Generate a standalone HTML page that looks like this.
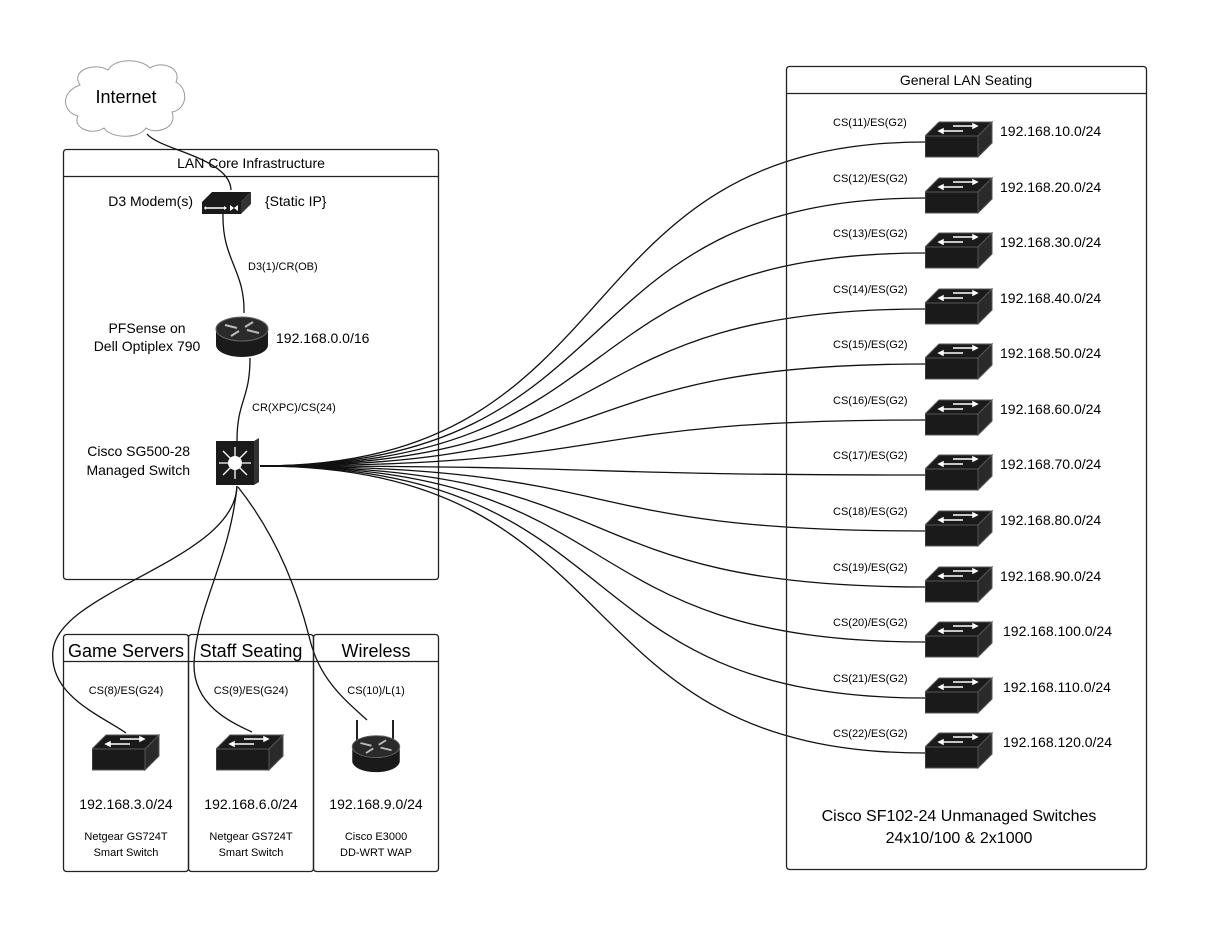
<!DOCTYPE html>
<html><head><meta charset="utf-8"><style>
html,body{margin:0;padding:0;background:#fff;}
svg{display:block;font-family:"Liberation Sans",sans-serif;}
</style></head><body>
<svg width="1205" height="932" viewBox="0 0 1205 932" xmlns="http://www.w3.org/2000/svg">
<defs>
<symbol id="sw" viewBox="0 0 68 37" width="68" height="37">
<polygon points="14,1 67,1 53,15 0,15" fill="#1a1a1a" stroke="#555" stroke-width="1"/>
<rect x="0" y="15" width="53" height="21" fill="#1a1a1a" stroke="#555" stroke-width="1"/>
<polygon points="53,15 67,1 67,22 53,36" fill="#2a2a2a" stroke="#555" stroke-width="1"/>
<g stroke="#fff" stroke-width="1.5" fill="#fff">
<line x1="28" y1="5" x2="48" y2="5"/><polygon points="48,3 52,5 48,7"/>
<line x1="18" y1="10" x2="38" y2="10"/><polygon points="18,8 14,10 18,12"/>
</g>
</symbol>
<symbol id="rt" viewBox="0 0 54 46" width="54" height="46">
<path d="M1,16 L1,32 A26,12 0 0 0 53,32 L53,16 Z" fill="#1a1a1a"/>
<ellipse cx="27" cy="16" rx="26" ry="12" fill="#2a2a2a" stroke="#666"/>
<g stroke="#bbb" stroke-width="2">
<line x1="10" y1="12" x2="22" y2="15"/><line x1="32" y1="17" x2="44" y2="20"/>
<line x1="16" y1="23" x2="24" y2="18"/><line x1="30" y1="14" x2="38" y2="9"/>
</g>
</symbol>
</defs>

<path d="M80,85 C70,70 95,62 108,70 C115,58 140,58 150,68 C162,60 182,68 176,82 C190,90 186,110 172,112 C178,128 156,135 146,128 C138,140 110,138 104,128 C92,136 72,128 78,116 C62,112 60,92 80,85 Z" fill="#fff" stroke="#999" stroke-width="1"/>
<text x="126" y="103" font-size="18" text-anchor="middle">Internet</text>

<rect x="63.5" y="149.5" width="375" height="430" rx="3" fill="none" stroke="#222" stroke-width="1.3"/>
<line x1="63.5" y1="176.5" x2="438.5" y2="176.5" stroke="#222" stroke-width="1.3"/>
<text x="251" y="168" font-size="14" text-anchor="middle">LAN Core Infrastructure</text>

<path d="M147,134 C160,150 230,158 231,190" fill="none" stroke="#111" stroke-width="1.3"/>

<polygon points="212,192 251,192 241,202 202,202" fill="#1a1a1a"/>
<rect x="202" y="202" width="39" height="12" fill="#1a1a1a"/>
<polygon points="241,202 251,192 251,204 241,214" fill="#333"/>
<line x1="206" y1="208" x2="224" y2="208" stroke="#fff" stroke-width="1.5"/>
<polygon points="206,206 204,208 206,210" fill="#fff"/><polygon points="224,206 227,208 224,210" fill="#fff"/>
<polygon points="230,205 234,208 230,211" fill="#fff"/><polygon points="238,205 234,208 238,211" fill="#fff"/>
<text x="193" y="206" font-size="14" text-anchor="end">D3 Modem(s)</text>
<text x="265" y="206" font-size="14">{Static IP}</text>

<path d="M223,214 C222,260 245,270 244,313" fill="none" stroke="#111" stroke-width="1.3"/>
<text x="248" y="270" font-size="11">D3(1)/CR(OB)</text>

<use href="#rt" x="215" y="313"/>
<text x="147" y="333" font-size="14" text-anchor="middle">PFSense on</text>
<text x="147" y="351" font-size="14" text-anchor="middle">Dell Optiplex 790</text>
<text x="276" y="343" font-size="14">192.168.0.0/16</text>

<path d="M250,358 C250,400 237,400 237,441" fill="none" stroke="#111" stroke-width="1.3"/>
<text x="252" y="411" font-size="11">CR(XPC)/CS(24)</text>

<rect x="216" y="441" width="38" height="44" fill="#1a1a1a"/>
<polygon points="254,441 259,438 259,482 254,485" fill="#333"/>
<circle cx="235" cy="463" r="7" fill="#fff"/>
<g stroke="#fff" stroke-width="1.3">
<line x1="235" y1="447" x2="235" y2="479"/><line x1="219" y1="463" x2="251" y2="463"/>
<line x1="223" y1="451" x2="247" y2="475"/><line x1="247" y1="451" x2="223" y2="475"/>
</g>
<text x="190" y="456" font-size="14" text-anchor="end">Cisco SG500-28</text>
<text x="190" y="475" font-size="14" text-anchor="end">Managed Switch</text>

<g fill="none" stroke="#111" stroke-width="1.3">
<path d="M260,466 C640,466 555,142 925,142"/>
<path d="M260,466 C640,466 555,198 925,198"/>
<path d="M260,466 C640,466 555,253 925,253"/>
<path d="M260,466 C640,466 555,309 925,309"/>
<path d="M260,466 C640,466 555,364 925,364"/>
<path d="M260,466 C640,466 555,420 925,420"/>
<path d="M260,466 C640,466 555,475 925,475"/>
<path d="M260,466 C640,466 555,531 925,531"/>
<path d="M260,466 C640,466 555,587 925,587"/>
<path d="M260,466 C640,466 555,642 925,642"/>
<path d="M260,466 C640,466 555,698 925,698"/>
<path d="M260,466 C640,466 555,753 925,753"/>
<path d="M237,486 C235,560 60,590 53,650 C48,695 100,715 126,733"/>
<path d="M237,486 C230,560 195,610 194,665 C194,705 230,722 252,732"/>
<path d="M238,487 C280,540 300,600 310,640 C320,680 345,700 367,720"/>
</g>

<rect x="786.5" y="66.5" width="360" height="803" rx="3" fill="none" stroke="#222" stroke-width="1.3"/>
<line x1="786.5" y1="93.5" x2="1146.5" y2="93.5" stroke="#222" stroke-width="1.3"/>
<text x="966" y="85" font-size="14" text-anchor="middle">General LAN Seating</text>

<g font-size="11">
<text x="833" y="126">CS(11)/ES(G2)</text>
<text x="833" y="182">CS(12)/ES(G2)</text>
<text x="833" y="237">CS(13)/ES(G2)</text>
<text x="833" y="293">CS(14)/ES(G2)</text>
<text x="833" y="348">CS(15)/ES(G2)</text>
<text x="833" y="404">CS(16)/ES(G2)</text>
<text x="833" y="459">CS(17)/ES(G2)</text>
<text x="833" y="515">CS(18)/ES(G2)</text>
<text x="833" y="571">CS(19)/ES(G2)</text>
<text x="833" y="626">CS(20)/ES(G2)</text>
<text x="833" y="682">CS(21)/ES(G2)</text>
<text x="833" y="737">CS(22)/ES(G2)</text>
</g>
<use href="#sw" x="925" y="121"/><use href="#sw" x="925" y="177"/><use href="#sw" x="925" y="232"/>
<use href="#sw" x="925" y="288"/><use href="#sw" x="925" y="343"/><use href="#sw" x="925" y="399"/>
<use href="#sw" x="925" y="454"/><use href="#sw" x="925" y="510"/><use href="#sw" x="925" y="566"/>
<use href="#sw" x="925" y="621"/><use href="#sw" x="925" y="677"/><use href="#sw" x="925" y="732"/>
<g font-size="14">
<text x="1000" y="136">192.168.10.0/24</text>
<text x="1000" y="192">192.168.20.0/24</text>
<text x="1000" y="247">192.168.30.0/24</text>
<text x="1000" y="303">192.168.40.0/24</text>
<text x="1000" y="358">192.168.50.0/24</text>
<text x="1000" y="414">192.168.60.0/24</text>
<text x="1000" y="469">192.168.70.0/24</text>
<text x="1000" y="525">192.168.80.0/24</text>
<text x="1000" y="581">192.168.90.0/24</text>
<text x="1003" y="636">192.168.100.0/24</text>
<text x="1003" y="692">192.168.110.0/24</text>
<text x="1003" y="747">192.168.120.0/24</text>
</g>
<text x="959" y="821" font-size="16" text-anchor="middle">Cisco SF102-24 Unmanaged Switches</text>
<text x="959" y="843" font-size="16" text-anchor="middle">24x10/100 &amp; 2x1000</text>

<g fill="none" stroke="#222" stroke-width="1.3">
<rect x="63.5" y="634.5" width="125" height="237" rx="3"/>
<rect x="188.5" y="634.5" width="125" height="237" rx="3"/>
<rect x="313.5" y="634.5" width="125" height="237" rx="3"/>
<line x1="63.5" y1="661.5" x2="438.5" y2="661.5"/>
</g>
<g font-size="18" text-anchor="middle">
<text x="126" y="657">Game Servers</text>
<text x="251" y="657">Staff Seating</text>
<text x="376" y="657">Wireless</text>
</g>
<g font-size="11" text-anchor="middle">
<text x="126" y="694">CS(8)/ES(G24)</text>
<text x="251" y="694">CS(9)/ES(G24)</text>
<text x="376" y="694">CS(10)/L(1)</text>
</g>
<use href="#sw" x="92" y="734"/>
<use href="#sw" x="216" y="734"/>
<line x1="357" y1="720" x2="357" y2="742" stroke="#222" stroke-width="2"/>
<line x1="393" y1="720" x2="393" y2="742" stroke="#222" stroke-width="2"/>
<use href="#rt" x="348" y="732" width="56" height="42"/>
<g font-size="14" text-anchor="middle">
<text x="126" y="809">192.168.3.0/24</text>
<text x="251" y="809">192.168.6.0/24</text>
<text x="376" y="809">192.168.9.0/24</text>
</g>
<g font-size="11" text-anchor="middle">
<text x="126" y="840">Netgear GS724T</text><text x="126" y="856">Smart Switch</text>
<text x="251" y="840">Netgear GS724T</text><text x="251" y="856">Smart Switch</text>
<text x="376" y="840">Cisco E3000</text><text x="376" y="856">DD-WRT WAP</text>
</g>
</svg>
</body></html>
